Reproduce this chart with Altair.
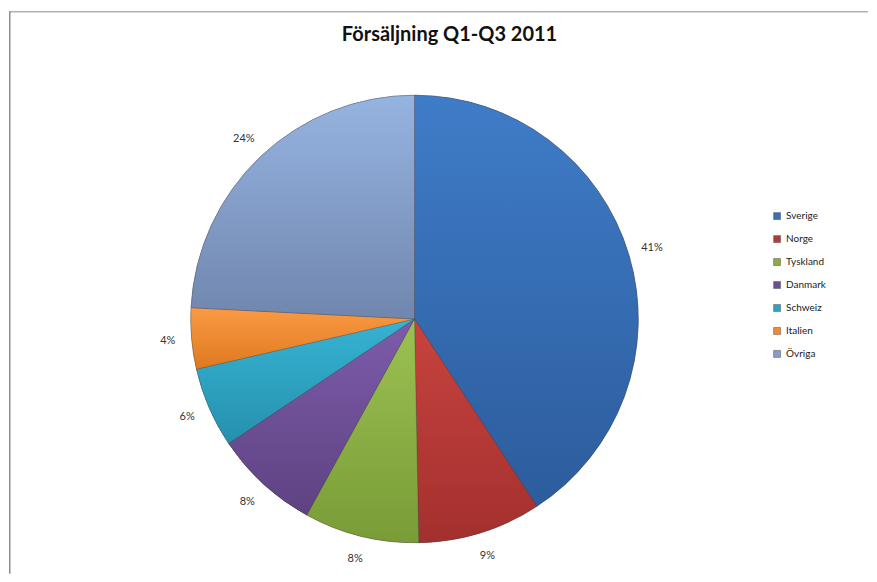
import altair as alt
import pandas as pd

TITLE = "Försäljning Q1-Q3 2011"
countries = ["Sverige", "Norge", "Tyskland", "Danmark", "Schweiz", "Italien", "Övriga"]
shares = [40.8, 8.9, 8.3, 7.6, 5.8, 4.4, 24.2]
colors = ["#3a6fb3", "#b53b37", "#8aad45", "#6d4e93", "#2fa3c1", "#ef8a31", "#859ec9"]
grad_top = ["#3f7cc8", "#c8433f", "#9cc152", "#7d5cab", "#37b3d3", "#f99a44", "#96b4e1"]
grad_bot = ["#2c5c9c", "#a3302e", "#799c37", "#5e4281", "#2590ad", "#e07920", "#7086ae"]

df = pd.DataFrame({"land": countries, "andel": shares, "idx": list(range(len(countries)))})
df["label"] = [f"{round(v):.0f}%" for v in shares]

W, H = 860, 566
CX, CY = 406, 311
R = 224

theta_scale = alt.Scale(domain=[0, 100])

color_enc = alt.Color(
    "land:N",
    scale=alt.Scale(domain=countries, range=colors),
    sort=countries,
    legend=alt.Legend(
        title=None,
        orient="none",
        legendX=764,
        legendY=203,
        symbolType="square",
        symbolSize=49,
        symbolStrokeWidth=0.5,
        symbolStrokeColor="#555555",
        labelFont="Lato",
        labelFontSize=10,
        labelColor="#222222",
        rowPadding=13,
        labelOffset=4,
    ),
)

base = alt.Chart(df).encode(
    theta=alt.Theta("andel:Q", stack=True, scale=theta_scale),
    order=alt.Order("idx:Q"),
)

pie = base.mark_arc(radius=R, stroke="#3d3d3d", strokeWidth=0.4).encode(
    color=color_enc,
    x=alt.value(CX),
    y=alt.value(CY),
)

cum = alt.Chart(df).transform_window(
    slut="sum(andel)", sort=[alt.SortField("idx", order="ascending")],
    frame=[None, 0],
).transform_calculate(start="datum.slut - datum.andel")

shaded = []
for i, land in enumerate(countries):
    grad = alt.Gradient(
        gradient="linear", x1=0, y1=0, x2=0, y2=1,
        stops=[alt.GradientStop(offset=0, color=grad_top[i]),
               alt.GradientStop(offset=1, color=grad_bot[i])],
    )
    shaded.append(
        cum.transform_filter(alt.datum.land == land)
        .mark_arc(radius=R, fill=grad, stroke="#3d3d3d", strokeWidth=0.4, strokeOpacity=0.7)
        .encode(
            theta=alt.Theta("start:Q", scale=theta_scale),
            theta2="slut:Q",
            x=alt.value(CX),
            y=alt.value(CY),
        )
    )

labels = base.mark_text(radius=248, font="Lato", fontSize=11, color="#333333").encode(
    text="label:N",
    x=alt.value(CX),
    y=alt.value(CY),
)

title = alt.Chart(pd.DataFrame({"t": [TITLE]})).mark_text(
    font="Lato", fontSize=20, fontWeight="bold", color="#111111", baseline="middle"
).encode(text="t:N", x=alt.value(441), y=alt.value(27))

frame_left = alt.Chart(pd.DataFrame({"a": [0]})).mark_rule(color="#8c8c8c", strokeWidth=1.5).encode(
    x=alt.value(0.75), y=alt.value(3), y2=alt.value(H)
)
frame_top = alt.Chart(pd.DataFrame({"a": [0]})).mark_rule(color="#8c8c8c", strokeWidth=1).encode(
    x=alt.value(0), x2=alt.value(W), y=alt.value(3.5)
)

chart = alt.layer(frame_left, frame_top, pie, *shaded, labels, title).properties(
    width=W, height=H, padding=0, background="white"
).configure_view(stroke=None)

chart.save("out.html", embed_options={"renderer": "svg", "actions": False})
